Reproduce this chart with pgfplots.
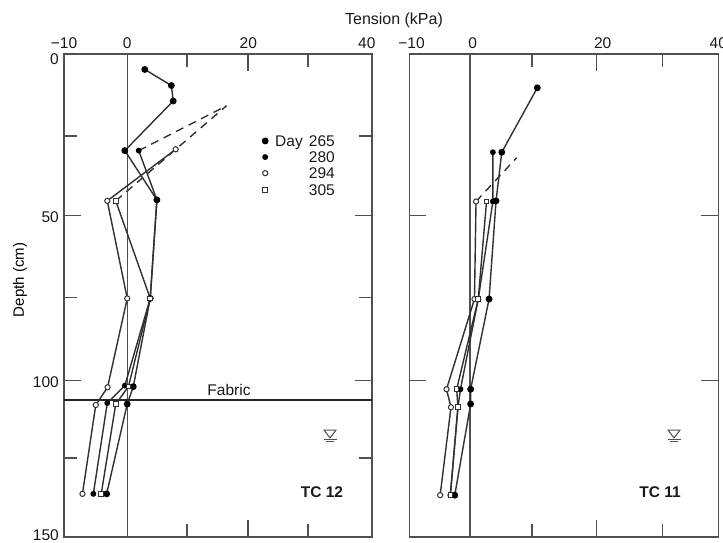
\documentclass[border=0pt]{standalone}
\usepackage{fontspec}
\setmainfont{Liberation Sans}
\usepackage{pgfplots}
\pgfplotsset{compat=1.18}
\definecolor{ax}{HTML}{505050}
\definecolor{ln}{HTML}{303030}
\pgfplotsset{
 panel/.style={
  scale only axis, width=#1, height=483pt, anchor=south west,
  y dir=reverse, ymin=0, ymax=150, clip=false,
  axis line style={ax,line width=1.6pt},
  tick align=inside, tick style={ax,line width=1.5pt},
  major tick length=0pt, minor tick length=13pt,
  xticklabel pos=top, xtick pos=both, ytick pos=both,
  extra tick style={major tick length=17pt,tick style={ax,line width=1.5pt}},
  extra x tick labels={}, extra y tick labels={},
  extra x ticks={}, 
  minor ytick={25.5,75.6,125.5},
  extra y ticks={50.1,101.4},
  tick label style={font=\fontsize{15.5}{18}\selectfont,inner sep=0pt,text=black!90},
  xticklabel style={yshift=5pt},
  yticklabel style={xshift=-5pt},
  every axis plot/.append style={ln,line width=1.4pt},
 },
 d265/.style={mark=*,mark size=2.7pt,mark options={fill=black,draw=black,solid}},
 d280/.style={mark=*,mark size=2.2pt,mark options={fill=black,draw=black,solid}},
 d294/.style={mark=*,mark size=2.6pt,mark options={fill=white,draw=ln,line width=1pt,solid}},
 d305/.style={mark=square*,mark size=2.3pt,mark options={fill=white,draw=ln,line width=1pt,solid}},
 dash/.style={dash pattern=on 8pt off 6pt,mark=none},
}
\newcommand{\wt}[2]{%
 \draw[ax,line width=1pt] (#1-6pt,#2+5pt) -- (#1+6pt,#2+5pt) -- (#1,#2-3pt) -- cycle;
 \draw[ax,line width=1pt] (#1-6.5pt,#2-4pt) -- (#1+6.5pt,#2-4pt);
 \draw[ax,line width=1pt] (#1-4pt,#2-6pt) -- (#1+4pt,#2-6pt);
}
\begin{document}
\begin{tikzpicture}[x=1pt,y=1pt]
\useasboundingbox (0,0) rectangle (723,542);
\begin{axis}[panel=308pt, at={(64pt,5pt)},
  xmin=-10.45, xmax=40.45,
  xtick={-10.45,0,20,39.6}, xticklabels={−10,0,20,40},
  minor xtick={9.9,29.9},
  extra x ticks={19.95},
  ytick={1.5,50.8,102,149.3}, yticklabels={0,50,100,150},
  ylabel={Depth (cm)},
  ylabel style={at={(axis description cs:-0.143,0.532)},anchor=center,font=\fontsize{15}{17}\selectfont},
]
\addplot[ax,line width=1.4pt] coordinates {(0,0)(0,150)};
\addplot[black!85,line width=2pt] coordinates {(-10.45,107.3)(40.45,107.3)};
% dashed
\addplot[ln,dash] coordinates {(1.9,30)(16.4,16.1)};
\addplot[ln,dash] coordinates {(-1.9,45.6)(16.4,16.1)};
% Day 265
\addplot[ln,d265] coordinates {(2.9,4.8)(7.3,9.8)(7.6,14.6)(-0.4,30)(4.9,45.3)(3.8,75.9)(1.0,103.3)(0,108.7)(-3.4,136.6)};
% Day 280
\addplot[ln,d280] coordinates {(1.9,30)(4.9,45.3)(3.8,75.9)(-0.4,103)(-3.3,108.4)(-5.6,136.6)};
% Day 294
\addplot[ln,d294] coordinates {(8,29.6)(-3.3,45.6)(0,75.9)(-3.25,103.5)(-5.2,109)(-7.4,136.6)};
% Day 305
\addplot[ln,d305] coordinates {(-1.9,45.6)(3.8,75.9)(0.2,103.3)(-1.9,108.7)(-4.3,136.6)};
% key marks
\addplot[only marks,d265] coordinates {(22.8,27)};
\addplot[only marks,d280] coordinates {(22.8,32)};
\addplot[only marks,d294] coordinates {(22.8,37)};
\addplot[only marks,d305] coordinates {(22.8,42.2)};
\end{axis}
\begin{axis}[panel=309pt, at={(409.3pt,5pt)},
  xmin=-9.56, xmax=39.1,
  xtick={-9.2,0.43,20.9,39.1}, xticklabels={−10,0,20,40},
  minor xtick={9.8,30.3},
  extra x ticks={19.95},
  ytick=\empty,
]
\addplot[ax,line width=1.4pt] coordinates {(0,0)(0,150)};
\addplot[ln,dash] coordinates {(0.95,45.8)(7.35,32.2)};
\addplot[ln,d265] coordinates {(10.6,10.5)(5,30.5)(4.1,45.6)(3.0,76.1)(0.1,104.1)(0.1,108.7)(-2.4,137)};
\addplot[ln,d280] coordinates {(3.6,30.5)(3.6,45.8)(1.3,76.1)(-1.5,104.1)(-1.9,109.7)(-3.1,137)};
\addplot[ln,d294] coordinates {(0.95,45.8)(0.7,76.1)(-3.7,104.1)(-3,109.7)(-4.7,137)};
\addplot[ln,d305] coordinates {(2.6,45.8)(1.3,76.1)(-2.1,104.1)(-1.9,109.7)(-3.1,137)};
\end{axis}
\def\fs{\fontsize{15.5}{18}\selectfont}
\node[font=\fontsize{16}{18}\selectfont,text=black!90] at (394,522) {Tension (kPa)};
\node[font=\fs,text=black!90] at (229,152) {Fabric};
\node[font=\fs\bfseries,text=black!90] at (322,50) {TC 12};
\node[font=\fs\bfseries,text=black!90] at (660,50) {TC 11};
\node[font=\fs,anchor=base west,inner sep=0pt,text=black!90] at (275,395.5) {Day};
\node[font=\fs,anchor=base east,inner sep=0pt,text=black!90] at (335,395.5) {265};
\node[font=\fs,anchor=base east,inner sep=0pt,text=black!90] at (335,379.5) {280};
\node[font=\fs,anchor=base east,inner sep=0pt,text=black!90] at (335,363.5) {294};
\node[font=\fs,anchor=base east,inner sep=0pt,text=black!90] at (335,346.5) {305};
\wt{330}{107}
\wt{674}{107}
\end{tikzpicture}
\end{document}
